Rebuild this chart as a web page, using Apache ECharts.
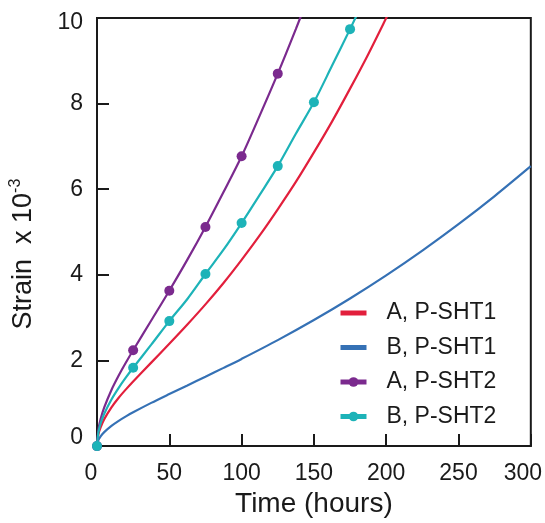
<!DOCTYPE html>
<html><head><meta charset="utf-8">
<script src="https://cdn.jsdelivr.net/npm/echarts@6/dist/echarts.min.js"></script>
<style>html,body{margin:0;padding:0;background:#fff}#c{width:545px;height:523px}</style>
</head><body><div id="c"></div>
<script>
// ---- data ----
const seriesNames = ['A, P-SHT1', 'B, P-SHT1', 'A, P-SHT2', 'B, P-SHT2'];
const xTicks = [0, 50, 100, 150, 200, 250, 300];
const yTicks = [0, 2, 4, 6, 8, 10];
const markerTimes = [0, 25, 50, 75, 100, 125, 150, 175];

const timeA1 = [0, 1, 2.5, 5, 10, 15, 20, 25, 37.5, 50, 62.5, 75, 87.5, 100, 112.5, 125, 137.5, 150, 162.5, 175, 187.5, 200, 205];
const strainA1 = [0, 0.28, 0.44, 0.63, 0.905, 1.13, 1.325, 1.51, 1.95, 2.39, 2.84, 3.31, 3.81, 4.35, 4.92, 5.53, 6.17, 6.86, 7.58, 8.35, 9.15, 10.0, 10.35];

const timeB1 = [0, 1, 2.5, 5, 10, 15, 20, 25, 37.5, 50, 62.5, 75, 87.5, 100, 125, 150, 175, 200, 225, 250, 275, 300];
const strainB1 = [0, 0.143, 0.228, 0.327, 0.473, 0.59, 0.694, 0.79, 1.01, 1.216, 1.418, 1.621, 1.827, 2.037, 2.476, 2.945, 3.449, 3.989, 4.567, 5.184, 5.841, 6.539];

const timeA2 = [0, 1, 2.5, 5, 10, 15, 20, 25, 37.5, 50, 62.5, 75, 87.5, 100, 112.5, 125, 137.5, 145];
const strainA2 = [0, 0.394, 0.63, 0.904, 1.312, 1.648, 1.952, 2.24, 2.934, 3.63, 4.355, 5.12, 5.933, 6.77, 7.72, 8.70, 9.741, 10.395];

const timeB2 = [0, 1, 2.5, 5, 10, 15, 20, 25, 37.5, 50, 62.5, 75, 87.5, 100, 112.5, 125, 137.5, 150, 162.5, 175, 185];
const strainB2 = [0, 0.33, 0.527, 0.754, 1.088, 1.36, 1.603, 1.83, 2.369, 2.92, 3.437, 4.02, 4.587, 5.21, 5.868, 6.54, 7.295, 8.03, 8.882, 9.74, 10.45];

const colors = ['#E21F3C', '#3571B5', '#7B2A8E', '#1DB3B8'];
const FONT = '"Liberation Sans", Arial, Helvetica, sans-serif';
const INK = '#1a1a1a';

function pairs(ts, vs, marked) {
  return ts.map((t, i) => marked
    ? { value: [t, vs[i]], symbol: markerTimes.includes(t) ? 'circle' : 'none' }
    : [t, vs[i]]);
}

function lineSeries(idx, ts, vs, marked) {
  return {
    name: seriesNames[idx],
    type: 'line',
    data: pairs(ts, vs, marked),
    smooth: 0.3,
    symbol: marked ? 'circle' : 'none',
    symbolSize: 10,
    showAllSymbol: true,
    clip: true,
    z: 2 + idx,
    color: colors[idx],
    lineStyle: { width: 2.2, color: colors[idx] },
    itemStyle: { color: colors[idx] }
  };
}

const chart = echarts.init(document.getElementById('c'), null, { renderer: 'canvas' });
chart.setOption({
  animation: false,
  backgroundColor: '#fff',
  grid: { left: 97, right: 14, top: 18, bottom: 75, show: true, borderColor: INK, borderWidth: 2, backgroundColor: 'transparent' },
  xAxis: {
    type: 'value', min: xTicks[0], max: xTicks[xTicks.length - 1], interval: xTicks[1] - xTicks[0],
    name: 'Time (hours)', nameLocation: 'middle', nameGap: 43,
    nameTextStyle: { fontSize: 28, fontFamily: FONT, color: INK },
    axisLine: { show: true, lineStyle: { color: INK, width: 2 } },
    axisTick: { show: true, inside: true, length: 12, lineStyle: { color: INK, width: 2 } },
    splitLine: { show: false },
    axisLabel: {
      margin: 16, fontSize: 23, fontFamily: FONT, color: INK,
      formatter: v => v === xTicks[0] ? '{l|' + v + '}' : (v === xTicks[xTicks.length - 1] ? '{r|' + v + '}' : String(v)),
      rich: {
        l: { fontSize: 23, fontFamily: FONT, color: INK, padding: [0, 12, 0, 0] },
        r: { fontSize: 23, fontFamily: FONT, color: INK, padding: [0, 16, 0, 0] }
      }
    }
  },
  yAxis: {
    type: 'value', min: yTicks[0], max: yTicks[yTicks.length - 1], interval: yTicks[1] - yTicks[0],
    name: '{a|Strain  x 10}{b|-3}', nameLocation: 'middle', nameGap: 58, nameRotate: 90,
    nameTextStyle: {
      fontSize: 27, fontFamily: FONT, color: INK, padding: [0, 44, 0, 0],
      rich: {
        a: { fontSize: 27, fontFamily: FONT, color: INK, lineHeight: 31 },
        b: { fontSize: 16, fontFamily: FONT, color: INK, verticalAlign: 'top', lineHeight: 31 }
      }
    },
    axisLine: { show: true, lineStyle: { color: INK, width: 2 } },
    axisTick: { show: true, inside: true, length: 12, lineStyle: { color: INK, width: 2 } },
    splitLine: { show: false },
    axisLabel: {
      margin: 14, fontSize: 23, fontFamily: FONT, color: INK,
      formatter: v => v === yTicks[0] ? '{lo|' + v + '}' : (v === yTicks[yTicks.length - 1] ? '{hi|' + v + '}' : String(v)),
      rich: {
        lo: { fontSize: 23, fontFamily: FONT, color: INK, padding: [0, 0, 17, 0] },
        hi: { fontSize: 23, fontFamily: FONT, color: INK, padding: [9, 0, 0, 0] }
      }
    }
  },
  legend: {
    orient: 'vertical', left: 338, top: 301, padding: 0,
    itemWidth: 26, itemHeight: 12, itemGap: 10.5,
    symbolKeepAspect: true,
    lineStyle: { width: 5 },
    textStyle: { fontSize: 23, lineHeight: 24, fontFamily: FONT, color: INK, padding: [0, 0, 0, 15] },
    data: [
      { name: seriesNames[0], icon: 'path://M0,0H26V5H0Z' },
      { name: seriesNames[1], icon: 'path://M0,0H26V5H0Z' },
      { name: seriesNames[2] },
      { name: seriesNames[3] }
    ]
  },
  series: [
    lineSeries(0, timeA1, strainA1, false),
    lineSeries(1, timeB1, strainB1, false),
    lineSeries(2, timeA2, strainA2, true),
    lineSeries(3, timeB2, strainB2, true)
  ]
});
</script>
</body></html>
